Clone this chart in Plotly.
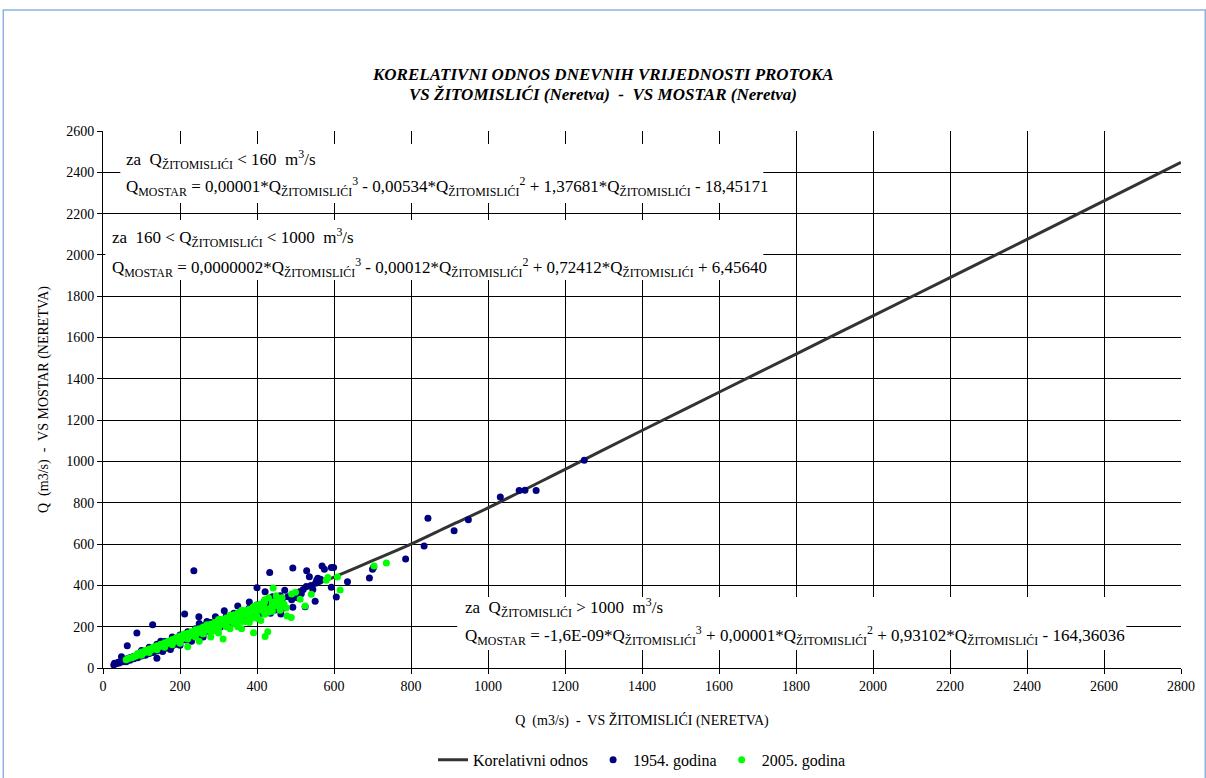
import plotly.graph_objects as go

# Correlation curve Q(Mostar) vs Q(Žitomislići)
curve_x = [30, 50, 80, 100, 130, 160, 200, 250, 300, 400, 500, 600, 700, 800, 900,
           1000, 1200, 1400, 1600, 1800, 2000, 2200, 2400, 2600, 2800]
curve_y = [18, 38, 63, 76, 92, 110, 148, 183, 218, 290, 363, 440, 520, 600, 688,
           775, 962, 1150, 1335, 1520, 1705, 1890, 2075, 2262, 2448]

# Daily flows, 1954
x_1954 = [28, 32, 35, 38, 40, 42, 45, 48, 50, 52, 55, 58, 60, 63, 65, 68, 70, 72, 75, 78,
          80, 85, 88, 90, 95, 98, 100, 105, 110, 115, 120, 125, 130, 135, 140, 145, 150,
          155, 160, 165, 170, 175, 180, 185, 190, 195, 200, 210, 220, 230, 240, 250, 260,
          270, 280, 290, 300, 310, 320, 330, 340, 350, 360, 370, 380, 390, 400, 410, 420,
          430, 63, 88, 129, 140, 48, 30, 236, 212, 249, 292, 315, 155, 175, 200, 230, 260,
          150, 180, 250, 270, 350, 380, 400, 421, 433, 443, 435, 462, 472, 493, 493, 511,
          525, 528, 529, 536, 551, 552, 555, 558, 562, 565, 569, 575, 593, 599, 593, 606,
          635, 692, 700, 703, 786, 834, 844, 912, 949, 1032, 1081, 1096, 1125, 1250,
          440, 450, 455, 465, 480, 490, 500, 505, 515, 520, 540, 545, 470, 460, 445,
          60, 70, 80, 90, 100, 110, 120, 130, 140, 150, 160, 170, 180, 190, 200, 215, 230,
          245, 260, 275, 290, 305, 320, 335, 350, 365, 380, 395, 410, 425,
          100, 120, 140, 160, 180, 200, 220, 240, 260, 280, 300, 320, 340, 360, 380, 400,
          420, 440]
y_1954 = [15, 20, 22, 25, 28, 24, 30, 33, 35, 30, 38, 40, 36, 45, 42, 48, 44, 50, 47, 55,
          52, 58, 54, 62, 60, 66, 70, 68, 75, 72, 82, 80, 90, 86, 95, 92, 102,
          98, 108, 104, 115, 112, 125, 120, 132, 128, 140, 150, 160, 155, 170, 180, 175,
          195, 190, 205, 215, 210, 230, 225, 240, 250, 245, 265, 258, 280, 290, 275, 300,
          310, 108, 169, 210, 47, 55, 23, 471, 262, 248, 248, 277, 80, 90, 110, 130, 150,
          130, 150, 215, 225, 300, 320, 389, 369, 462, 338, 265, 262, 377, 484, 294, 369,
          297, 394, 471, 442, 323, 410, 425, 435, 420, 430, 494, 478, 486, 486, 391, 344,
          418, 436, 478, 488, 528, 591, 725, 665, 718, 828, 859, 861, 859, 1006,
          310, 320, 300, 330, 345, 330, 355, 340, 360, 380, 400, 380, 290, 350, 280,
          30, 38, 45, 50, 58, 62, 70, 75, 82, 88, 95, 100, 108, 115, 125, 135, 145,
          158, 165, 178, 190, 198, 212, 220, 232, 240, 250, 262, 265, 285,
          85, 100, 115, 128, 140, 160, 175, 190, 205, 220, 235, 250, 265, 270, 290, 305,
          325, 345]

# Daily flows, 2005
x_2005 = [60, 65, 70, 75, 80, 85, 90, 95, 100, 105, 110, 115, 120, 125, 130, 135, 140, 145,
          150, 155, 160, 165, 170, 175, 180, 185, 190, 195, 200, 205, 210, 215, 220, 225,
          230, 235, 240, 245, 250, 255, 260, 265, 270, 275, 280, 285, 290, 295, 300, 305,
          310, 315, 320, 325, 330, 335, 340, 345, 350, 355, 360, 365, 370, 375, 380, 385,
          390, 395, 400, 405, 410, 415, 420,
          200, 220, 250, 280, 300, 312, 330, 350, 360, 380, 391, 421, 428, 442, 440, 452,
          476, 478, 489, 490, 500, 512, 525, 541, 580, 584, 609, 616, 704, 736,
          210, 240, 270, 300, 330, 360, 390, 400, 410, 420, 430, 435, 445, 455, 460, 465,
          470, 385, 370, 345, 320, 290,
          90, 100, 110, 120, 130, 140, 150, 160, 170, 180, 190, 200, 210, 220, 230, 240,
          250, 260, 270, 280, 290, 300, 310, 320, 330, 340, 350, 360, 370, 380, 390, 400,
          410, 100, 120, 140, 160, 180, 200, 220, 240, 260, 280, 300, 320, 340, 360, 380,
          400, 420, 440, 460, 420, 430, 440, 450, 460, 400, 410]
y_2005 = [40, 45, 48, 50, 55, 58, 62, 65, 70, 72, 78, 80, 85, 88, 92, 95, 100, 102,
          108, 110, 115, 118, 122, 125, 130, 128, 138, 135, 145, 140, 152, 148, 158, 155,
          165, 160, 172, 168, 180, 175, 188, 182, 195, 190, 200, 195, 208, 202, 215, 210,
          222, 218, 230, 225, 238, 232, 245, 240, 252, 248, 258, 255, 265, 260, 272, 268,
          280, 275, 285, 292, 280, 300, 290,
          120, 103, 130, 150, 170, 140, 190, 200, 190, 220, 171, 152, 176, 387, 310, 338,
          292, 252, 244, 358, 367, 333, 300, 357, 425, 438, 441, 378, 494, 508,
          165, 185, 210, 235, 255, 280, 295, 305, 310, 320, 270, 290, 300, 320, 280, 340,
          310, 240, 225, 220, 205, 180,
          70, 78, 85, 92, 100, 108, 115, 122, 130, 138, 146, 155, 160, 168, 175, 182,
          190, 198, 205, 212, 220, 228, 235, 242, 250, 258, 265, 270, 278, 285, 292, 298,
          305, 62, 75, 88, 100, 112, 130, 140, 150, 165, 175, 190, 200, 215, 225, 235,
          250, 260, 275, 290, 330, 340, 320, 350, 300, 240, 230]

x_ticks = list(range(0, 2801, 200))
y_ticks = list(range(0, 2601, 200))

SERIF = "Liberation Serif, Times New Roman, serif"
Z = "Q<sub>ŽITOMISLIĆI</sub>"
M = "Q<sub>MOSTAR</sub>"

# Equation texts, one entry per line
eq_lines = [
    (f"za  {Z} &lt; 160  m<sup>3</sup>/s", 55, 2462),
    (f"{M} = 0,00001*{Z}<sup>3</sup> - 0,00534*{Z}<sup>2</sup> + 1,37681*{Z} - 18,45171", 55, 2330),
    (f"za  160 &lt; {Z} &lt; 1000  m<sup>3</sup>/s", 19, 2082),
    (f"{M} = 0,0000002*{Z}<sup>3</sup> - 0,00012*{Z}<sup>2</sup> + 0,72412*{Z} + 6,45640", 19, 1940),
    (f"za  {Z} &gt; 1000  m<sup>3</sup>/s", 936, 292),
    (f"{M} = -1,6E-09*{Z}<sup>3</sup> + 0,00001*{Z}<sup>2</sup> + 0,93102*{Z} - 164,36036", 936, 158),
]
# White panels behind the equation blocks (x0, x1, y0, y1 in axis units)
panels = [(45, 1715, 2252, 2537), (6, 1715, 1879, 2169), (920, 2658, 87, 344)]

fig = go.Figure()
fig.add_trace(go.Scatter(x=curve_x, y=curve_y, mode="lines", name="Korelativni odnos",
                         line=dict(color="#333333", width=3, shape="spline")))
fig.add_trace(go.Scatter(x=x_1954, y=y_1954, mode="markers", name="1954. godina",
                         marker=dict(color="#000080", size=7)))
fig.add_trace(go.Scatter(x=x_2005, y=y_2005, mode="markers", name="2005. godina",
                         marker=dict(color="#00FF00", size=7)))

axis_common = dict(showgrid=True, gridcolor="#000000", gridwidth=1,
                   showline=True, linecolor="#000000", linewidth=1,
                   ticks="outside", ticklen=5, tickcolor="#000000",
                   tickfont=dict(family=SERIF, size=14, color="#000000"),
                   zeroline=False, automargin=False)

fig.update_xaxes(range=[0, 2800], tickvals=x_ticks, **axis_common,
                 title=dict(text="Q  (m3/s)  -  VS ŽITOMISLIĆI (NERETVA)",
                            font=dict(family=SERIF, size=14, color="#000000"), standoff=22))
fig.update_yaxes(range=[0, 2600], tickvals=y_ticks, **axis_common,
                 title=dict(text="Q  (m3/s)  -  VS MOSTAR (NERETVA)",
                            font=dict(family=SERIF, size=14, color="#000000"), standoff=14))

ann_font = dict(family=SERIF, size=17, color="#000000")
annotations = [
    dict(text=t, x=x, y=y, xref="x", yref="y", xanchor="left", yanchor="middle",
         align="left", showarrow=False, font=ann_font)
    for t, x, y in eq_lines
]
title_font = dict(family=SERIF, size=17, color="#000000")
annotations += [
    dict(text="<b><i>KORELATIVNI ODNOS DNEVNIH VRIJEDNOSTI PROTOKA</i></b>",
         x=0.4641, y=1.1043, xref="paper", yref="paper", xanchor="center",
         yanchor="middle", showarrow=False, font=title_font),
    dict(text="<b><i>VS ŽITOMISLIĆI (Neretva)  -  VS MOSTAR (Neretva)</i></b>",
         x=0.4641, y=1.0689, xref="paper", yref="paper", xanchor="center",
         yanchor="middle", showarrow=False, font=title_font),
]

shapes = [
    dict(type="rect", xref="x", yref="y", x0=a, x1=b, y0=c, y1=d,
         fillcolor="white", line=dict(width=0), layer="above")
    for a, b, c, d in panels
]
shapes.append(dict(type="rect", xref="paper", yref="paper",
                   x0=-0.0925, x1=1.0225, y0=-0.25, y1=1.2253,
                   line=dict(color="#8DB3E2", width=1.5), layer="above"))

fig.update_layout(
    width=1206, height=778, autosize=False,
    margin=dict(l=103, r=25, t=131, b=110, autoexpand=False),
    paper_bgcolor="white", plot_bgcolor="white",
    legend=dict(orientation="h", x=0.5, xanchor="center", y=-0.171, yanchor="middle",
                font=dict(family=SERIF, size=16, color="#000000"),
                bgcolor="rgba(0,0,0,0)", traceorder="normal"),
    showlegend=True,
    annotations=annotations,
    shapes=shapes,
)

fig.write_html("out.html")
